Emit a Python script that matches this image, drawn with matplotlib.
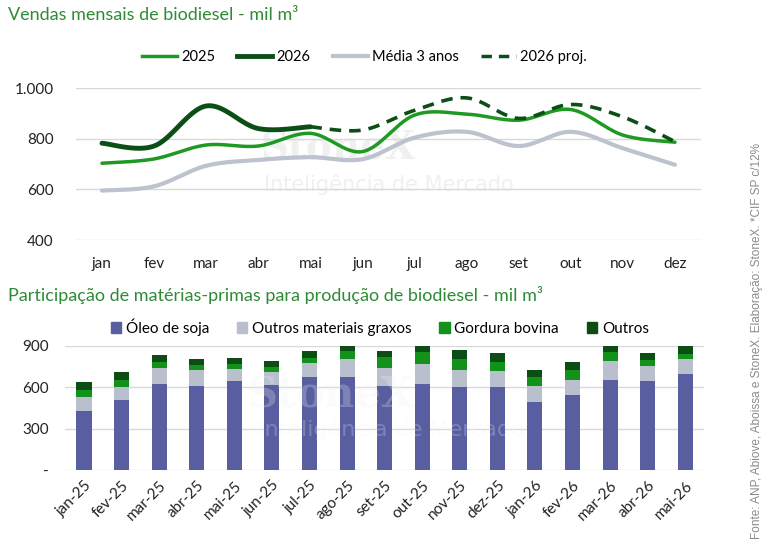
import numpy as np
import matplotlib
matplotlib.use("Agg")
import matplotlib.pyplot as plt
from matplotlib.lines import Line2D
from matplotlib.patches import Patch

plt.rcParams["font.family"] = ["Lato", "DejaVu Sans"]

# --- data: monthly biodiesel sales (mil m3) ---
months = ["jan", "fev", "mar", "abr", "mai", "jun", "jul", "ago", "set", "out", "nov", "dez"]
sales_2025 = [703, 720, 775, 771, 821, 749, 893, 897, 873, 915, 814, 786]
sales_2026 = [782, 771, 929, 840, 847]
avg_3y = [595, 612, 693, 716, 727, 719, 804, 827, 771, 827, 762, 697]
proj_2026 = [847, 834, 912, 961, 880, 935, 886, 788]  # from mai to dez

# --- data: feedstock share (mil m3) ---
periods = ["jan-25", "fev-25", "mar-25", "abr-25", "mai-25", "jun-25", "jul-25", "ago-25",
           "set-25", "out-25", "nov-25", "dez-25", "jan-26", "fev-26", "mar-26", "abr-26", "mai-26"]
soy_oil = [430, 509, 624, 610, 646, 617, 674, 674, 610, 624, 600, 600, 494, 542, 653, 646, 696]
other_fats = [98, 91, 113, 115, 84, 93, 99, 128, 127, 142, 125, 118, 116, 111, 137, 108, 106]
beef_tallow = [53, 53, 48, 36, 38, 39, 43, 60, 84, 91, 77, 64, 62, 72, 64, 43, 43]
others = [57, 57, 48, 43, 43, 41, 46, 58, 45, 73, 72, 68, 53, 57, 66, 53, 65]

c_2025 = "#1e9a22"
c_2026 = "#0b4f17"
c_avg = "#bcc2ce"
c_soy = "#585e9f"
c_fats = "#b9bfcc"
c_beef = "#12921a"
c_oth = "#0b4d12"
title_c = "#2e8b35"
wm_c = "#f0f0f0"


def smooth(x, y, n=30):
    # Excel-style smoothed line (bezier through points)
    x = np.asarray(x, float)
    y = np.asarray(y, float)
    px = np.concatenate([[x[0]], x, [x[-1]]])
    py = np.concatenate([[y[0]], y, [y[-1]]])
    xs, ys = [], []
    t = np.linspace(0, 1, n)
    for i in range(1, len(px) - 2):
        p0 = np.array([px[i], py[i]])
        p3 = np.array([px[i + 1], py[i + 1]])
        p1 = p0 + (np.array([px[i + 1], py[i + 1]]) - np.array([px[i - 1], py[i - 1]])) / 6
        p2 = p3 - (np.array([px[i + 2], py[i + 2]]) - np.array([px[i], py[i]])) / 6
        b = ((1 - t) ** 3)[:, None] * p0 + (3 * (1 - t) ** 2 * t)[:, None] * p1 \
            + (3 * (1 - t) * t ** 2)[:, None] * p2 + (t ** 3)[:, None] * p3
        xs.extend(b[:, 0])
        ys.extend(b[:, 1])
    return np.array(xs), np.array(ys)


fig = plt.figure(figsize=(7.67, 5.5), dpi=100)

# ---------------- top chart ----------------
ax1 = fig.add_axes([0.099, 0.5636, 0.815, 0.2764])
x = np.arange(len(months))
ax1.plot(*smooth(x, avg_3y), color=c_avg, lw=3, solid_capstyle="round")
ax1.plot(*smooth(x, sales_2025), color=c_2025, lw=2.5, solid_capstyle="round")
ax1.plot(*smooth(x[4:], proj_2026), color=c_2026, lw=2.6, ls=(0, (3.2, 2.2)))
ax1.plot(*smooth(x[:5], sales_2026), color=c_2026, lw=3.5, solid_capstyle="round")
ax1.set_xlim(-0.5, len(months) - 0.5)
ax1.set_ylim(400, 1000)
ax1.set_yticks([400, 600, 800, 1000])
ax1.set_yticklabels(["400", "600", "800", "1.000"])
ax1.set_xticks(x)
ax1.set_xticklabels(months)
ax1.grid(axis="y", color="#d9d9d9", lw=1)
ax1.set_axisbelow(True)
for s in ax1.spines.values():
    s.set_visible(False)
ax1.tick_params(length=0, labelsize=11, colors="#222222")
ax1.tick_params(axis="x", pad=12)
ax1.tick_params(axis="y", pad=16)
ax1.text(0.42, 0.6, "StoneX", transform=ax1.transAxes, fontsize=28, family="DejaVu Serif",
         color=wm_c, ha="center", va="center", zorder=0, fontweight="bold")
ax1.text(0.5, 0.37, "Inteligência de Mercado", transform=ax1.transAxes, fontsize=15,
         color=wm_c, ha="center", va="center", zorder=0, family="DejaVu Sans")

handles1 = [Line2D([], [], color=c_2025, lw=2.5), Line2D([], [], color=c_2026, lw=3.5),
            Line2D([], [], color=c_avg, lw=3), Line2D([], [], color=c_2026, lw=2.5, ls=(0, (3, 2)))]
fig.legend(handles1, ["2025", "2026", "Média 3 anos", "2026 proj."], loc="center",
           bbox_to_anchor=(0.475, 0.897), ncol=4, frameon=False, fontsize=10.5,
           handlelength=2.4, columnspacing=1.5, handletextpad=0.3)

fig.text(0.01, 0.972, "Vendas mensais de biodiesel - mil m³", fontsize=13, color=title_c,
         va="center")

# ---------------- bottom chart ----------------
ax2 = fig.add_axes([0.085, 0.1455, 0.833, 0.2255])
xb = np.arange(len(periods))
w = 0.4
b1 = np.array(soy_oil)
b2 = b1 + np.array(other_fats)
b3 = b2 + np.array(beef_tallow)
ax2.bar(xb, soy_oil, w, color=c_soy)
ax2.bar(xb, other_fats, w, bottom=b1, color=c_fats)
ax2.bar(xb, beef_tallow, w, bottom=b2, color=c_beef)
ax2.bar(xb, others, w, bottom=b3, color=c_oth)
ax2.set_xlim(-0.5, len(periods) - 0.5)
ax2.set_ylim(0, 900)
ax2.set_yticks([0, 300, 600, 900])
ax2.set_yticklabels(["-", "300", "600", "900"])
ax2.set_xticks(xb)
ax2.set_xticklabels(periods, rotation=45, ha="right", rotation_mode="anchor")
ax2.grid(axis="y", color="#d9d9d9", lw=1)
ax2.set_axisbelow(True)
for s in ax2.spines.values():
    s.set_visible(False)
ax2.tick_params(length=0, labelsize=11, colors="#222222")
ax2.tick_params(axis="y", pad=12)
ax2.tick_params(axis="x", pad=6)
ax2.text(0.415, 0.6, "StoneX", transform=ax2.transAxes, fontsize=30, family="DejaVu Serif",
         color="#f2f2f2", ha="center", va="center", zorder=2.5, fontweight="bold", alpha=0.25)
ax2.text(0.51, 0.33, "Inteligência de Mercado", transform=ax2.transAxes, fontsize=16,
         color="#f2f2f2", ha="center", va="center", zorder=2.5, family="DejaVu Sans", alpha=0.25)

handles2 = [Patch(color=c_soy), Patch(color=c_fats), Patch(color=c_beef), Patch(color=c_oth)]
fig.legend(handles2, ["Óleo de soja", "Outros materiais graxos", "Gordura bovina", "Outros"],
           loc="center", bbox_to_anchor=(0.495, 0.405), ncol=4, frameon=False, fontsize=11,
           handlelength=0.7, handleheight=0.7, columnspacing=1.8, handletextpad=0.3)

fig.text(0.01, 0.464, "Participação de matérias-primas para produção de biodiesel - mil m³",
         fontsize=13, color=title_c, va="center")

fig.text(0.987, 0.38, "Fonte: ANP, Abiove, Aboissa e StoneX. Elaboração: StoneX. *CIF SP c/12%",
         rotation=90, fontsize=8.5, color="#8a8a8a", family="Liberation Sans",
         ha="center", va="center")

fig.savefig("out.png", dpi=100)
